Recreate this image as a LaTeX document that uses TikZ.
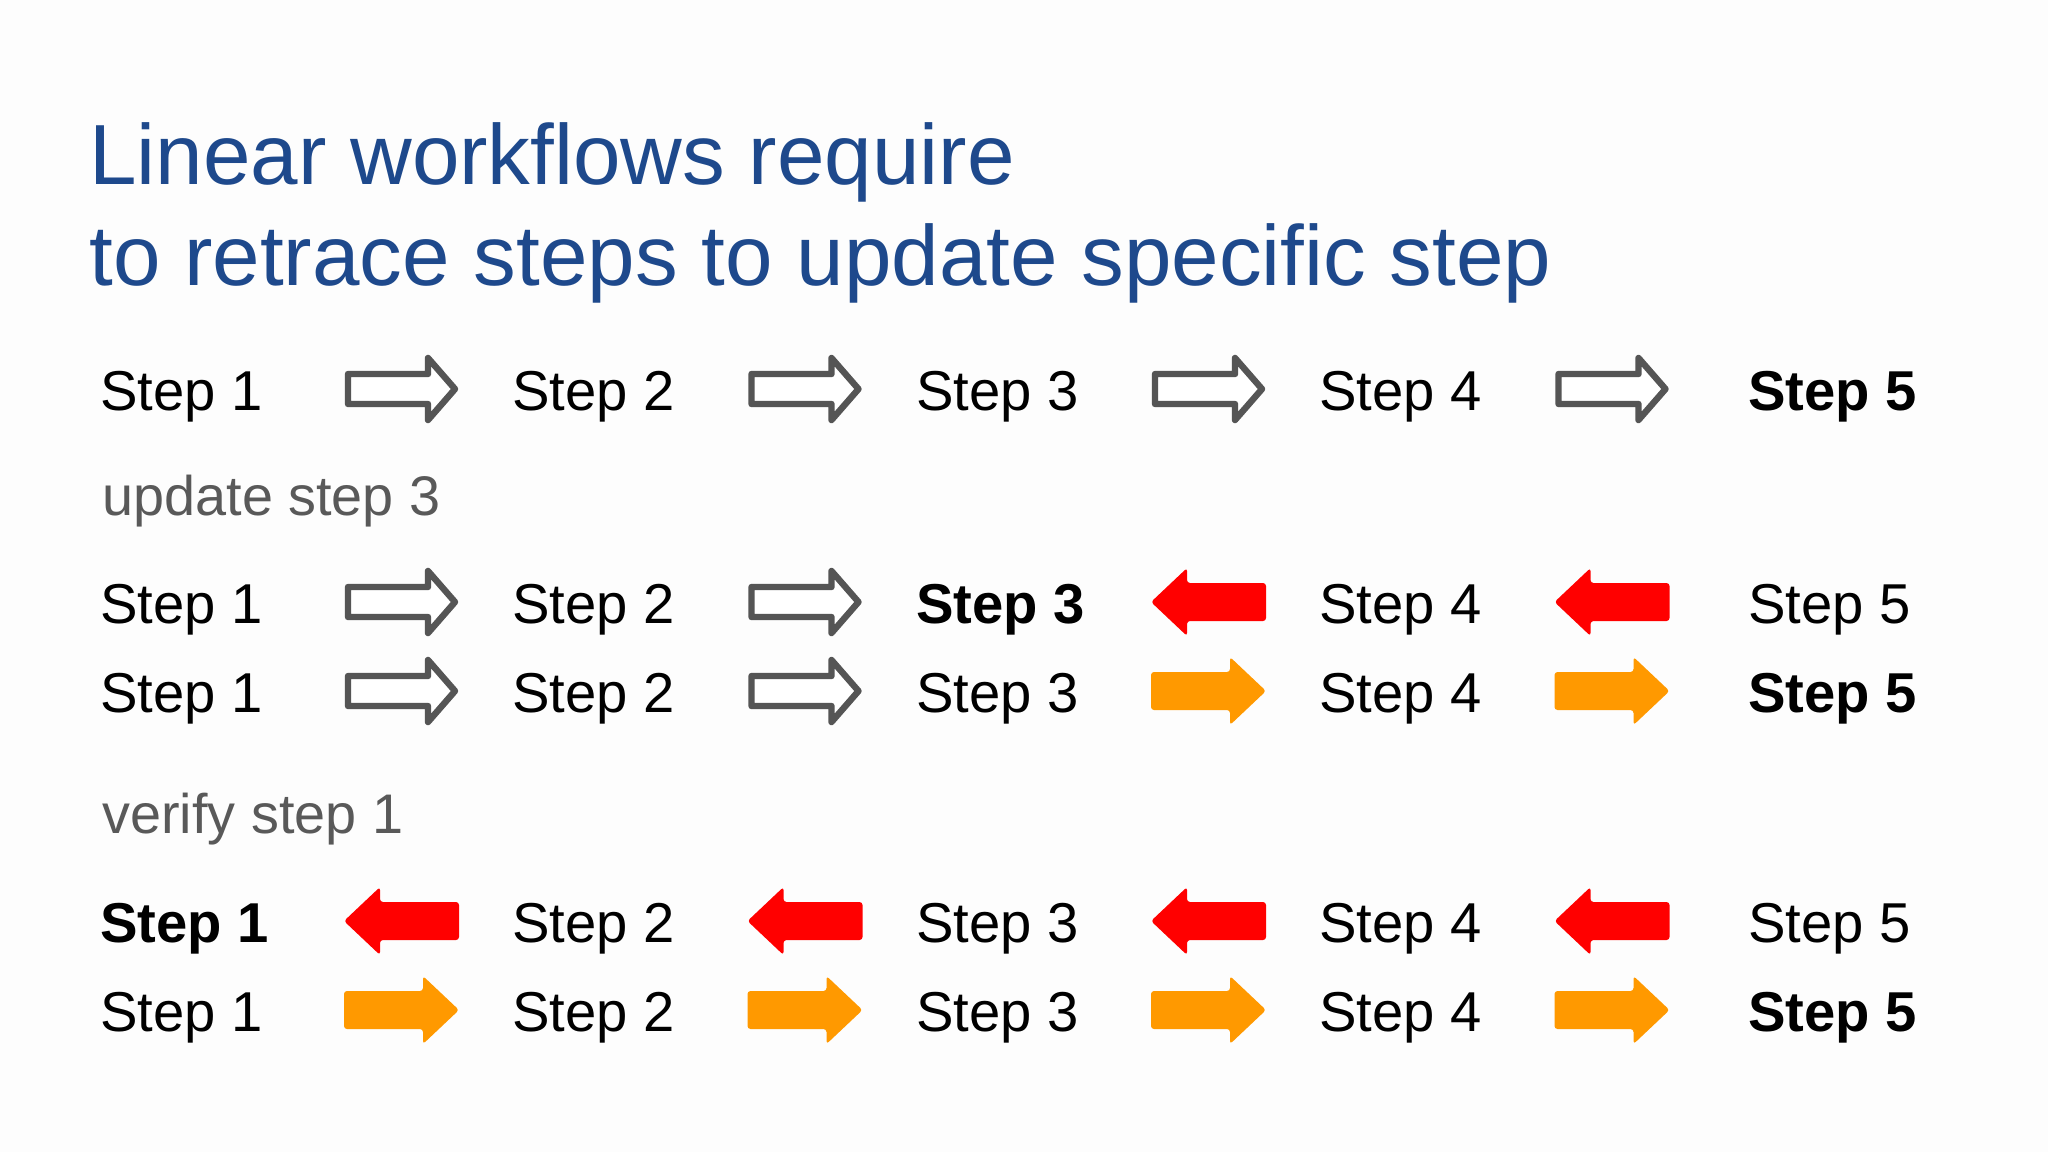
\documentclass[tikz,border=0pt]{standalone}
\usepackage{fontspec}
\setmainfont{Liberation Sans}
\definecolor{titleblue}{RGB}{30,73,140}
\definecolor{graytext}{RGB}{89,89,89}
\definecolor{arrowgray}{RGB}{85,85,85}
\definecolor{redarrow}{RGB}{255,0,0}
\definecolor{orangearrow}{RGB}{255,153,0}
\definecolor{bgcol}{RGB}{253,253,253}
\begin{document}
\begin{tikzpicture}[x=0.5pt,y=-0.5pt,
  titletext/.style={anchor=base west,inner sep=0pt,text=titleblue,font=\fontsize{42.7}{51}\selectfont},
  steptext/.style={anchor=base west,inner sep=0pt,text=black,font=\fontsize{28.1}{34}\selectfont},
  boldstep/.style={steptext,font=\fontsize{28.1}{34}\selectfont\bfseries},
  labeltext/.style={anchor=base west,inner sep=0pt,text=graytext,font=\fontsize{27.9}{34}\selectfont},
  outlinearrow/.pic={\draw[arrowgray,fill=white,line width=3.2pt,line join=round]
     (-53.5,-15) -- (26.5,-15) -- (26.5,-31) -- (53.5,0) -- (26.5,31) -- (26.5,15) -- (-53.5,15) -- cycle;},
  orangeright/.pic={\fill[orangearrow,rounded corners=1.5pt]
     (-57.5,-19) -- (21.5,-19) -- (21.5,-34) -- (57.5,0) -- (21.5,34) -- (21.5,19) -- (-57.5,19) -- cycle;},
  redleft/.pic={\fill[redarrow,rounded corners=1.5pt]
     (57.5,-19) -- (-21.5,-19) -- (-21.5,-34) -- (-57.5,0) -- (-21.5,34) -- (-21.5,19) -- (57.5,19) -- cycle;}
]
\fill[bgcol] (0,0) rectangle (2048,1152);
\useasboundingbox (0,0) rectangle (2048,1152);

\node[titletext] (title1) at (89,184) {Linear workflows require};
\node[titletext] (title2) at (89,285) {to retrace steps to update specific step};

% column x positions
\def\xa{100}\def\xb{512}\def\xc{916}\def\xd{1319}\def\xe{1748}
\def\aa{401.5}\def\ab{805}\def\ac{1208.5}\def\ad{1612}

% Row 1 (center 389)
\node[steptext] (s11) at (\xa,410) {Step 1};
\node[steptext] (s12) at (\xb,410) {Step 2};
\node[steptext] (s13) at (\xc,410) {Step 3};
\node[steptext] (s14) at (\xd,410) {Step 4};
\node[boldstep] (s15) at (\xe,410) {Step 5};
\pic at (\aa,389) {outlinearrow};
\pic at (\ab,389) {outlinearrow};
\pic at (\ac,389) {outlinearrow};
\pic at (\ad,389) {outlinearrow};

\node[labeltext] (upd) at (102,515) {update step 3};

% Row 2 (center 602)
\node[steptext] (s21) at (\xa,623) {Step 1};
\node[steptext] (s22) at (\xb,623) {Step 2};
\node[boldstep] (s23) at (\xc,623) {Step 3};
\node[steptext] (s24) at (\xd,623) {Step 4};
\node[steptext] (s25) at (\xe,623) {Step 5};
\pic at (\aa,602) {outlinearrow};
\pic at (\ab,602) {outlinearrow};
\pic at (\ac,602) {redleft};
\pic at (\ad,602) {redleft};

% Row 3 (center 691)
\node[steptext] (s31) at (\xa,712) {Step 1};
\node[steptext] (s32) at (\xb,712) {Step 2};
\node[steptext] (s33) at (\xc,712) {Step 3};
\node[steptext] (s34) at (\xd,712) {Step 4};
\node[boldstep] (s35) at (\xe,712) {Step 5};
\pic at (\aa,691) {outlinearrow};
\pic at (\ab,691) {outlinearrow};
\pic at (\ac,691) {orangeright};
\pic at (\ad,691) {orangeright};

\node[labeltext] (ver) at (102,833) {verify step 1};

% Row 4 (center 921)
\node[boldstep] (s41) at (\xa,942) {Step 1};
\node[steptext] (s42) at (\xb,942) {Step 2};
\node[steptext] (s43) at (\xc,942) {Step 3};
\node[steptext] (s44) at (\xd,942) {Step 4};
\node[steptext] (s45) at (\xe,942) {Step 5};
\pic at (\aa,921) {redleft};
\pic at (\ab,921) {redleft};
\pic at (\ac,921) {redleft};
\pic at (\ad,921) {redleft};

% Row 5 (center 1010)
\node[steptext] (s51) at (\xa,1031) {Step 1};
\node[steptext] (s52) at (\xb,1031) {Step 2};
\node[steptext] (s53) at (\xc,1031) {Step 3};
\node[steptext] (s54) at (\xd,1031) {Step 4};
\node[boldstep] (s55) at (\xe,1031) {Step 5};
\pic at (\aa,1010) {orangeright};
\pic at (\ab,1010) {orangeright};
\pic at (\ac,1010) {orangeright};
\pic at (\ad,1010) {orangeright};
\end{tikzpicture}
\end{document}
